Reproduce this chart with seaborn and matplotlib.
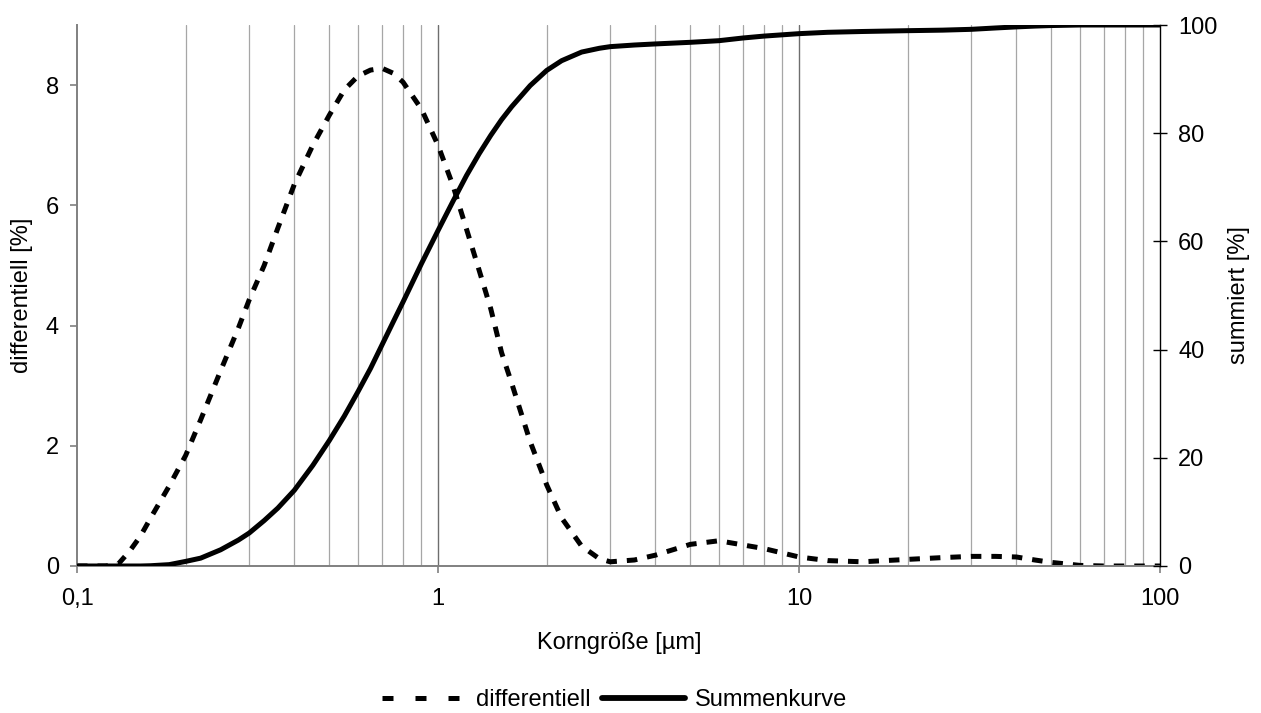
import matplotlib
matplotlib.use("Agg")
import matplotlib.pyplot as plt
from matplotlib.lines import Line2D
from matplotlib.ticker import FixedLocator, FuncFormatter, NullFormatter
import pandas as pd
import seaborn as sns

# Particle size distribution: grain size in µm
korngroesse = [0.10, 0.12, 0.13, 0.14, 0.15, 0.16, 0.18, 0.20, 0.22, 0.25,
               0.28, 0.30, 0.33, 0.36, 0.40, 0.45, 0.50, 0.55, 0.60, 0.65,
               0.70, 0.75, 0.80, 0.90, 1.0, 1.1, 1.2, 1.3, 1.4, 1.5,
               1.6, 1.8, 2.0, 2.2, 2.5, 2.8, 3.0, 3.5, 4.0, 5.0,
               6.0, 7.0, 8.0, 10, 12, 15, 20, 25, 30, 35,
               40, 45, 50, 60, 70, 80, 100]

# Differential fraction [%]
differentiell = [0.0, 0.0, 0.03, 0.25, 0.5, 0.8, 1.33, 1.84, 2.43, 3.25,
                 3.96, 4.43, 5.0, 5.62, 6.35, 7.0, 7.5, 7.92, 8.15, 8.25,
                 8.28, 8.2, 8.05, 7.6, 7.0, 6.33, 5.6, 4.92, 4.28, 3.55,
                 3.04, 2.07, 1.35, 0.8, 0.33, 0.12, 0.07, 0.1, 0.18, 0.36,
                 0.42, 0.35, 0.29, 0.15, 0.09, 0.07, 0.11, 0.14, 0.16, 0.16,
                 0.15, 0.1, 0.06, 0.01, 0.0, 0.0, 0.0]

# Cumulative fraction [%]
summenkurve = [0.0, 0.0, 0.0, 0.0, 0.0, 0.05, 0.25, 0.85, 1.45, 3.0,
               4.8, 6.1, 8.4, 10.7, 14.0, 18.6, 23.2, 27.7, 32.2, 36.5,
               40.9, 45.0, 48.8, 55.9, 62.0, 67.4, 72.2, 76.2, 79.6, 82.5,
               84.9, 88.8, 91.6, 93.4, 95.0, 95.7, 96.0, 96.3, 96.5, 96.8,
               97.1, 97.6, 97.95, 98.4, 98.65, 98.8, 98.95, 99.05, 99.2, 99.45,
               99.65, 99.8, 99.9, 100.0, 100.0, 100.0, 100.0]

x_ticks = [0.1, 1, 10, 100]
x_ticklabels = ["0,1", "1", "10", "100"]
left_ticks = [0, 2, 4, 6, 8]
right_ticks = [0, 20, 40, 60, 80, 100]

df = pd.DataFrame({"Korngröße": korngroesse,
                   "differentiell": differentiell,
                   "Summenkurve": summenkurve})

sns.set_theme(style="white")
plt.rcParams["font.family"] = ["Liberation Sans", "DejaVu Sans"]
plt.rcParams["text.color"] = "black"
plt.rcParams["axes.labelcolor"] = "black"
plt.rcParams["xtick.labelcolor"] = "black"
plt.rcParams["ytick.labelcolor"] = "black"
fs = 17

fig = plt.figure(figsize=(12.61, 7.13), dpi=100)
ax = fig.add_axes([77 / 1261, 1 - 566 / 713, 1083 / 1261, 541 / 713])
ax2 = ax.twinx()

lw = 3.6
sns.lineplot(data=df, x="Korngröße", y="differentiell", ax=ax,
             color="black", lw=lw, legend=False)
dline = ax.lines[-1]
dline.set_dashes([2.1, 2.0])
dline.set_dash_capstyle("butt")

sns.lineplot(data=df, x="Korngröße", y="Summenkurve", ax=ax2,
             color="black", lw=lw, legend=False)

ax.set_xscale("log")
ax.set_xlim(0.1, 100)
ax.set_ylim(0, 9)
ax2.set_ylim(0, 100)

# vertical grid: every minor decade step light, decade lines darker
minor_pos = [m * 10.0 ** e for e in (-1, 0, 1) for m in range(2, 10)]
for xv in minor_pos:
    ax.axvline(xv, color="#a6a6a6", lw=0.9, zorder=0)
for xv in (1, 10):
    ax.axvline(xv, color="#6e6e6e", lw=1.0, zorder=0)

ax.xaxis.set_major_locator(FixedLocator(x_ticks))
ax.xaxis.set_major_formatter(FuncFormatter(
    lambda v, p: x_ticklabels[x_ticks.index(v)] if v in x_ticks else ""))
ax.xaxis.set_minor_locator(FixedLocator([]))
ax.xaxis.set_minor_formatter(NullFormatter())
ax.set_yticks(left_ticks)
ax.set_yticklabels([str(t) for t in left_ticks])
ax2.set_yticks(right_ticks)
ax2.set_yticklabels([str(t) for t in right_ticks])

ax.grid(False)
ax2.grid(False)

for a in (ax, ax2):
    for s in a.spines.values():
        s.set_visible(False)
ax.spines["left"].set_visible(True)
ax.spines["left"].set_color("#808080")
ax.spines["left"].set_linewidth(1.4)
ax.spines["bottom"].set_visible(True)
ax.spines["bottom"].set_color("#808080")
ax.spines["bottom"].set_linewidth(1.4)
ax2.spines["right"].set_visible(True)
ax2.spines["right"].set_color("black")
ax2.spines["right"].set_linewidth(1.0)

ax.tick_params(axis="y", direction="out", length=5, width=1.2,
               color="#808080", pad=8, labelsize=fs, left=True,
               labelcolor="black")
ax.tick_params(axis="x", which="major", direction="out", length=5, width=1.2,
               color="#808080", pad=11, labelsize=fs, bottom=True,
               labelcolor="black")
ax2.tick_params(axis="y", direction="inout", length=10, width=1.0,
                color="black", pad=8, labelsize=fs, right=True,
                labelcolor="black")

ax.set_xlabel("Korngröße [µm]", fontsize=fs, color="black")
ax.xaxis.label.set_va("center")
ax.xaxis.set_label_coords(0.501, (566 - 643) / 541)

ax.set_ylabel("differentiell [%]", fontsize=fs, color="black")
ax.yaxis.label.set_rotation_mode("default")
ax.yaxis.label.set_va("center")
ax.yaxis.set_label_coords((22 - 77) / 1083, 0.5)

ax2.set_ylabel("summiert [%]", fontsize=fs, rotation=90, color="black")
ax2.yaxis.label.set_rotation_mode("default")
ax2.yaxis.label.set_va("center")
ax2.yaxis.set_label_coords((1239 - 77) / 1083, 0.5)

handles = [
    Line2D([], [], color="black", lw=lw, dashes=[2.2, 4.4],
           dash_capstyle="butt"),
    Line2D([], [], color="black", lw=lw + 0.6, solid_capstyle="round"),
]
fig.legend(handles, ["differentiell", "Summenkurve"], loc="center",
           bbox_to_anchor=(615 / 1261, 1 - 700 / 713), ncol=2,
           frameon=False, fontsize=fs, handlelength=3.5,
           handletextpad=0.45, columnspacing=0.5, borderaxespad=0,
           borderpad=0)

fig.savefig("out.png", dpi=100)
